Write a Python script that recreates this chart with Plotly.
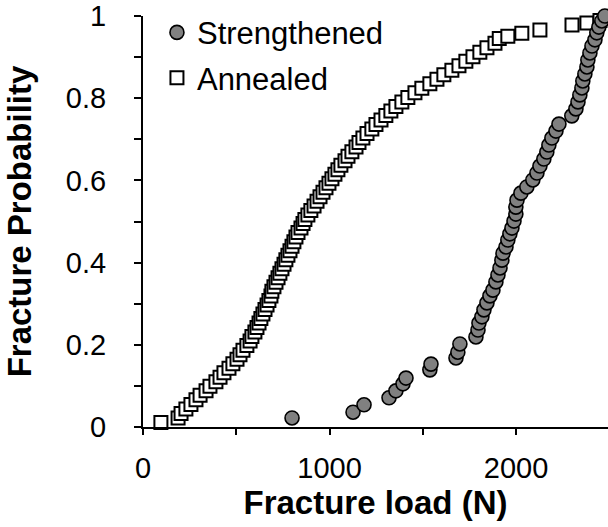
import plotly.graph_objects as go

# Fracture load (N) and cumulative fracture probability for each glass set
strengthened_load = [799, 1126, 1185, 1319, 1356, 1394, 1410, 1538, 1544, 1678, 1688, 1699,
                     1785, 1796, 1801, 1817, 1828, 1844, 1860, 1876, 1892, 1903, 1914, 1924,
                     1930, 1946, 1956, 1967, 1978, 1989, 1999, 1999, 2005, 2026, 2058, 2090,
                     2112, 2128, 2149, 2165, 2176, 2192, 2214, 2230, 2299, 2321, 2332, 2342,
                     2353, 2358, 2369, 2380, 2385, 2396, 2407, 2423, 2433, 2444, 2460, 2476]
strengthened_prob = [0.022, 0.036, 0.054, 0.071, 0.088, 0.105, 0.119, 0.139, 0.153, 0.168, 0.182, 0.202,
                     0.219, 0.236, 0.253, 0.268, 0.285, 0.302, 0.319, 0.333, 0.353, 0.370, 0.387, 0.406,
                     0.423, 0.438, 0.455, 0.470, 0.484, 0.501, 0.518, 0.535, 0.552, 0.569, 0.584, 0.601,
                     0.618, 0.635, 0.652, 0.669, 0.686, 0.703, 0.720, 0.737, 0.757, 0.774, 0.791, 0.808,
                     0.825, 0.842, 0.859, 0.876, 0.893, 0.910, 0.927, 0.942, 0.959, 0.973, 0.988, 1.0]

annealed_load = [96, 188, 204, 230, 257, 284, 306, 338, 359, 391, 413, 434, 461, 482, 504, 520,
                 536, 557, 574, 584, 600, 611, 622, 632, 643, 654, 665, 675, 686, 691, 702, 713,
                 724, 734, 745, 756, 766, 777, 788, 799, 809, 820, 831, 847, 858, 868, 884, 900,
                 917, 933, 949, 965, 981, 997, 1013, 1029, 1045, 1061, 1083, 1099, 1120, 1142,
                 1158, 1179, 1201, 1227, 1249, 1276, 1302, 1329, 1356, 1388, 1420, 1458, 1495,
                 1538, 1576, 1613, 1656, 1694, 1731, 1769, 1806, 1844, 1887, 1910, 1956, 2031,
                 2128, 2300, 2380, 2450]
annealed_prob = [0.011, 0.022, 0.033, 0.044, 0.055, 0.066, 0.077, 0.088, 0.099, 0.110, 0.121, 0.132,
                 0.143, 0.154, 0.165, 0.176, 0.187, 0.198, 0.209, 0.220, 0.231, 0.242, 0.253, 0.264,
                 0.275, 0.286, 0.297, 0.308, 0.319, 0.330, 0.341, 0.352, 0.363, 0.374, 0.385, 0.396,
                 0.407, 0.418, 0.429, 0.440, 0.451, 0.462, 0.473, 0.484, 0.495, 0.505, 0.516, 0.527,
                 0.538, 0.549, 0.560, 0.571, 0.582, 0.593, 0.604, 0.615, 0.626, 0.637, 0.648, 0.659,
                 0.670, 0.681, 0.692, 0.703, 0.714, 0.725, 0.736, 0.747, 0.758, 0.769, 0.780, 0.791,
                 0.802, 0.813, 0.824, 0.835, 0.846, 0.857, 0.868, 0.879, 0.890, 0.901, 0.912, 0.923,
                 0.934, 0.945, 0.951, 0.958, 0.966, 0.978, 0.983, 0.989]

x_tickvals = [0, 1000, 2000]
x_ticktext = ["0", "1000", "2000"]
y_tickvals = [0, 0.2, 0.4, 0.6, 0.8, 1]
y_ticktext = ["0", "0.2", "0.4", "0.6", "0.8", "1"]

FONT = "Liberation Sans, Arial, sans-serif"

fig = go.Figure()

fig.add_trace(go.Scatter(
    x=annealed_load, y=annealed_prob, mode="markers", name="Annealed",
    legendgroup="a", legendrank=2,
    marker=dict(symbol="square", size=13, color="white", line=dict(color="black", width=2)),
    cliponaxis=False,
))
fig.add_trace(go.Scatter(
    x=strengthened_load, y=strengthened_prob, mode="markers", name="Strengthened",
    legendgroup="s", legendrank=1,
    marker=dict(symbol="circle", size=14, color="#808080", line=dict(color="black", width=1.6)),
    cliponaxis=False,
))

XR = [0, 2493]
YR = [0, 1]

fig.update_layout(
    width=608, height=527,
    margin=dict(l=143, r=0, t=16, b=100),
    plot_bgcolor="white", paper_bgcolor="white",
    font=dict(family=FONT, size=29, color="black"),
    showlegend=True,
    legend=dict(
        x=0.03, y=1.025, xanchor="left", yanchor="top",
        bgcolor="rgba(0,0,0,0)", borderwidth=0,
        font=dict(family=FONT, size=31, color="black"),
        traceorder="grouped", tracegroupgap=2,
    ),
    xaxis=dict(
        range=XR, showgrid=False, zeroline=False,
        showline=True, linecolor="black", linewidth=2,
        ticks="outside", ticklen=6, tickwidth=2, tickcolor="black",
        tickvals=x_tickvals, ticktext=x_ticktext,
        minor=dict(dtick=500, tick0=0, ticks="outside", ticklen=6, tickwidth=2, tickcolor="black", showgrid=False),
        ticklabelstandoff=8,
        tickfont=dict(family=FONT, size=29),
        title=dict(text="<b>Fracture load (N)</b>", font=dict(family=FONT, size=33), standoff=8),
    ),
    yaxis=dict(
        range=YR, showgrid=False, zeroline=False,
        showline=True, linecolor="black", linewidth=2,
        ticks="outside", ticklen=7, tickwidth=2, tickcolor="black",
        tickvals=y_tickvals, ticktext=y_ticktext,
        minor=dict(dtick=0.1, tick0=0, ticks="outside", ticklen=7, tickwidth=2, tickcolor="black", showgrid=False),
        ticklabelstandoff=22,
        tickfont=dict(family=FONT, size=29),
        title=dict(text="<b>Fracture Probability</b>", font=dict(family=FONT, size=33), standoff=24),
    ),
    # overlay axes carry the inner half of the crossing tick marks
    xaxis2=dict(
        overlaying="x", range=XR, side="bottom", showgrid=False, zeroline=False, showline=False,
        ticks="inside", ticklen=6, tickwidth=2, tickcolor="black", tick0=0, dtick=500,
        showticklabels=False,
    ),
    yaxis2=dict(
        overlaying="y", range=YR, side="left", showgrid=False, zeroline=False, showline=False,
        ticks="inside", ticklen=7, tickwidth=2, tickcolor="black", tick0=0, dtick=0.1,
        showticklabels=False,
    ),
)

fig.write_html("out.html")
